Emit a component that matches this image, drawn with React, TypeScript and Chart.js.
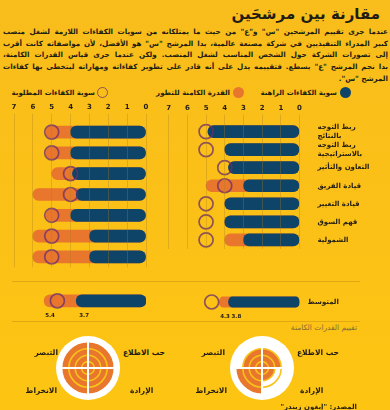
import React, { useEffect, useRef } from "react";
import { Chart, registerables } from "chart.js";

Chart.register(...registerables);
Chart.defaults.font.family = '"DejaVu Sans", sans-serif';

// ---------- data ----------
const categories: (string | string[])[] = [
  ["ربط التوجه", "بالنتائج"],
  ["ربط التوجه", "بالاستراتيجية"],
  "التعاون والتأثير",
  "قيادة الفريق",
  "قيادة التغيير",
  "فهم السوق",
  "الشمولية",
];
const leftCurrent = [4, 4, 3.9, 3.7, 4, 3, 3];
const leftPotential = [5.3, 5.3, 5, 6, 5.3, 6, 6];
const leftRequired = [5, 5, 4, 4, 5, 5, 5];
const rightCurrent = [4.9, 4, 3.8, 3, 4, 4, 3];
const rightPotential = [4.9, 4, 3.8, 5, 4, 4, 4];
const rightRequired = [5, 5, 4, 4, 5, 5, 5];

const avgCategory = ["المتوسط"];
const leftAvgCurrent = [3.7];
const leftAvgPotential = [5.4];
const leftAvgRequired = [4.7];
const rightAvgCurrent = [3.8];
const rightAvgPotential = [4.3];
const rightAvgRequired = [4.7];

const potentialAspects = ["حب الاطلاع", "الإرادة", "الانخراط", "التبصر"];
const leftAspectScores = [4, 4, 4, 4];
const rightAspectScores = [3, 2, 4, 3];

const legendLabels = ["سوية الكفاءات الراهنة", "القدرة الكامنة للتطور", "سوية الكفاءات المطلوبة"];
const titleText = "مقارنة بين مرشحَين";
const introLines = [
  'عندما جرى تقييم المرشحين "س" و"ع" من حيث ما يمتلكانه من سويات الكفاءات اللازمة لشغل منصب',
  'كبير المدراء التنفيذيين في شركة مصنعة عالمية، بدا المرشح "س" هو الأفضل، لأن مواصفاته كانت أقرب',
  "إلى تصورات الشركة حول الشخص المناسب لشغل المنصب. ولكن عندما جرى قياس القدرات الكامنة،",
  'بدا نجم المرشح "ع" يسطع. فتقييمه يدل على أنه قادر على تطوير كفاءاته ومهاراته ليتخطى بها كفاءات',
  'المرشح "س".',
];
const subtitleText = "تقييم القدرات الكامنة";
const sourceText = 'المصدر: "إيغون زيندر"';

// ---------- styles ----------
const NAVY = "#0e4467";
const ORANGE = "#e8762d";
const RING = "rgba(105,45,110,0.75)";
const TEXT = "#221c14";
const GRID = "rgba(170,125,30,0.33)";
const RING_YELLOW = "#f7c21a";

const avgValuePlugin = {
  id: "avgValues",
  afterDatasetsDraw(chart: any) {
    const xs = chart.scales.x;
    const ys = chart.scales.y;
    const ctx = chart.ctx;
    const y = ys.getPixelForValue(0) + 14.5;
    ctx.save();
    ctx.font = 'bold 5.5px "DejaVu Sans"';
    ctx.fillStyle = TEXT;
    ctx.textAlign = "left";
    ctx.textBaseline = "middle";
    const pot = chart.data.datasets[2].data[0];
    const cur = chart.data.datasets[1].data[0];
    ctx.fillText(pot.toFixed(1), xs.getPixelForValue(pot) + 1, y);
    ctx.fillText(cur.toFixed(1), xs.getPixelForValue(cur) + 3, y);
    ctx.restore();
  },
};

const whiteDisc = {
  id: "whiteDisc",
  beforeDatasetsDraw(chart: any) {
    const r = chart.scales.r;
    const ctx = chart.ctx;
    ctx.save();
    ctx.fillStyle = "#ffffff";
    ctx.beginPath();
    ctx.arc(r.xCenter, r.yCenter, r.drawingArea, 0, Math.PI * 2);
    ctx.fill();
    ctx.restore();
  },
};

type BarOpts = {
  main: boolean;
  showY: boolean;
  padLeft: number;
  padRight: number;
  padTop: number;
  padBottom: number;
  yPadding: number;
  values?: boolean;
};

function barConfig(
  labels: any[],
  current: number[],
  potential: number[],
  required: number[],
  o: BarOpts
): any {
  const barStyle = {
    barThickness: 12,
    borderRadius: 6,
    borderSkipped: false,
    grouped: false,
  };
  const xScale: any = {
    type: "linear",
    position: "top",
    min: 0,
    max: 7,
    reverse: true,
    display: o.main,
    ticks: { stepSize: 1, padding: 2, color: TEXT, font: { size: 7, weight: "bold" } },
    grid: { color: GRID, lineWidth: 1, z: 1, tickLength: 8, drawTicks: true },
    border: { display: false },
  };
  if (o.main) {
    xScale.afterFit = (s: any) => {
      s.height = 21.7;
    };
  }
  const yScale: any = {
    type: "category",
    position: "right",
    offset: true,
    display: o.showY,
    grid: { display: false, drawTicks: false },
    border: { display: false },
    ticks: {
      crossAlign: "near",
      padding: o.yPadding,
      color: TEXT,
      font: { size: 7, weight: "bold", lineHeight: 1.3 },
    },
  };
  if (o.showY) {
    yScale.afterFit = (s: any) => {
      s.width = 90.5;
    };
  }
  return {
    type: "bar",
    data: {
      labels,
      datasets: [
        {
          type: "line",
          indexAxis: "y",
          data: required,
          showLine: false,
          pointRadius: 7,
          pointHoverRadius: 7,
          pointBorderWidth: 1.7,
          pointBorderColor: RING,
          pointBackgroundColor: "rgba(0,0,0,0)",
          order: 0,
        },
        { data: current, backgroundColor: NAVY, order: 1, ...barStyle },
        { data: potential, backgroundColor: ORANGE, order: 2, ...barStyle },
      ],
    },
    options: {
      indexAxis: "y",
      animation: false,
      responsive: false,
      events: [],
      layout: { padding: { left: o.padLeft, right: o.padRight, top: o.padTop, bottom: o.padBottom } },
      plugins: { legend: { display: false }, tooltip: { enabled: false } },
      scales: { x: xScale, y: yScale },
    },
    plugins: o.values ? [avgValuePlugin] : [],
  };
}

function polarConfig(scores: number[]): any {
  return {
    type: "polarArea",
    data: {
      labels: potentialAspects,
      datasets: [{ data: scores, backgroundColor: ORANGE, borderWidth: 0 }],
    },
    options: {
      animation: false,
      responsive: false,
      events: [],
      layout: { padding: 0 },
      plugins: { legend: { display: false }, tooltip: { enabled: false } },
      scales: {
        r: {
          min: 0,
          max: 5,
          ticks: { display: false, stepSize: 1 },
          grid: {
            z: 1,
            circular: true,
            lineWidth: 1.6,
            color: (c: any) => (c.tick && c.tick.value < 4 ? RING_YELLOW : "rgba(0,0,0,0)"),
          },
          angleLines: { display: true, color: "#ffffff", lineWidth: 2 },
          pointLabels: { display: false },
        },
      },
    },
    plugins: [whiteDisc],
  };
}

function ChartBox(props: { make: () => any; left: number; top: number; width: number; height: number }) {
  const ref = useRef<HTMLCanvasElement>(null);
  useEffect(() => {
    const chart = new Chart(ref.current as HTMLCanvasElement, props.make());
    return () => chart.destroy();
  }, []);
  return (
    <canvas
      ref={ref}
      width={props.width}
      height={props.height}
      style={{ position: "absolute", left: props.left, top: props.top, width: props.width, height: props.height }}
    />
  );
}

const abs = (s: React.CSSProperties): React.CSSProperties => ({ position: "absolute", ...s });

function AspectLabels({ cx, cy, offs }: { cx: number; cy: number; offs: number[] }) {
  const st: React.CSSProperties = { fontSize: 7.5, fontWeight: "bold", whiteSpace: "nowrap", lineHeight: "10px" };
  return (
    <>
      <div dir="rtl" style={abs({ ...st, left: cx + offs[0], top: cy - 20 })}>{potentialAspects[0]}</div>
      <div dir="rtl" style={abs({ ...st, left: cx + offs[1], top: cy + 18 })}>{potentialAspects[1]}</div>
      <div dir="rtl" style={abs({ ...st, right: 390 - (cx - offs[2]), top: cy + 18 })}>{potentialAspects[2]}</div>
      <div dir="rtl" style={abs({ ...st, right: 390 - (cx - offs[3]), top: cy - 20 })}>{potentialAspects[3]}</div>
    </>
  );
}

export default function App() {
  const legendText: React.CSSProperties = { fontSize: 7, fontWeight: "bold", whiteSpace: "nowrap", lineHeight: "10px" };
  return (
    <div
      style={{
        position: "absolute",
        left: 0,
        top: 0,
        width: 390,
        height: 410,
        overflow: "hidden",
        background: "linear-gradient(180deg, #f9bd1c 0%, #fcc116 60%, #fdc512 100%)",
        fontFamily: '"DejaVu Sans", sans-serif',
        color: TEXT,
      }}
    >
      <div dir="rtl" style={abs({ right: 10, top: 4, fontSize: 15, fontWeight: "bold", whiteSpace: "nowrap", lineHeight: "20px" })}>
        {titleText}
      </div>
      <div dir="rtl" style={abs({ left: 3, top: 26, width: 385, fontSize: 7.2, fontWeight: "bold", lineHeight: "11.7px" })}>
        {introLines.map((l, i) => (
          <div
            key={i}
            style={{
              whiteSpace: "nowrap",
              textAlign: i < introLines.length - 1 ? "justify" : "right",
              textAlignLast: i < introLines.length - 1 ? "justify" : "right",
            }}
          >
            {l}
          </div>
        ))}
      </div>

      {/* legend */}
      <div style={abs({ left: 340, top: 87, width: 11, height: 11, borderRadius: "50%", background: NAVY })} />
      <div dir="rtl" style={abs({ ...legendText, right: 390 - 337, top: 88 })}>{legendLabels[0]}</div>
      <div style={abs({ left: 233, top: 87, width: 11, height: 11, borderRadius: "50%", background: ORANGE })} />
      <div dir="rtl" style={abs({ ...legendText, right: 390 - 230, top: 88 })}>{legendLabels[1]}</div>
      <div style={abs({ left: 97, top: 86.5, width: 9, height: 9, borderRadius: "50%", border: "1.7px solid " + RING })} />
      <div dir="rtl" style={abs({ ...legendText, right: 390 - 95, top: 88 })}>{legendLabels[2]}</div>

      <ChartBox
        left={0}
        top={100}
        width={160}
        height={176}
        make={() =>
          barConfig(categories, leftCurrent, leftPotential, leftRequired, {
            main: true, showY: false, padLeft: 14, padRight: 14, padTop: 0, padBottom: 0, yPadding: 0,
          })
        }
      />
      <ChartBox
        left={160}
        top={100}
        width={230}
        height={176}
        make={() =>
          barConfig(categories, rightCurrent, rightPotential, rightRequired, {
            main: true, showY: true, padLeft: 7, padRight: 0, padTop: 0, padBottom: 0, yPadding: 18,
          })
        }
      />

      <div style={abs({ left: 12, top: 281, width: 348, height: 1, background: "rgba(170,120,20,0.35)" })} />

      <ChartBox
        left={0}
        top={284}
        width={160}
        height={36}
        make={() =>
          barConfig(avgCategory, leftAvgCurrent, leftAvgPotential, leftAvgRequired, {
            main: false, showY: false, padLeft: 14, padRight: 14, padTop: 1, padBottom: 11, yPadding: 0, values: true,
          })
        }
      />
      <ChartBox
        left={160}
        top={284}
        width={230}
        height={36}
        make={() =>
          barConfig(avgCategory, rightAvgCurrent, rightAvgPotential, rightAvgRequired, {
            main: false, showY: true, padLeft: 7, padRight: 0, padTop: 1, padBottom: 11, yPadding: 8, values: true,
          })
        }
      />

      <div style={abs({ left: 12, top: 321, width: 348, height: 1, background: "rgba(170,120,20,0.35)" })} />

      <div dir="rtl" style={abs({ right: 390 - 357, top: 323, fontSize: 7.5, color: "#8a6a35", whiteSpace: "nowrap", lineHeight: "10px" })}>
        {subtitleText}
      </div>

      <ChartBox left={56} top={336} width={64} height={64} make={() => polarConfig(leftAspectScores)} />
      <ChartBox left={230} top={336} width={64} height={64} make={() => polarConfig(rightAspectScores)} />
      <AspectLabels cx={88} cy={368} offs={[35, 42, 31, 30]} />
      <AspectLabels cx={262} cy={368} offs={[35, 38, 35, 37]} />

      <div dir="rtl" style={abs({ right: 390 - 357, top: 402, fontSize: 7, fontWeight: "bold", whiteSpace: "nowrap", lineHeight: "10px" })}>
        {sourceText}
      </div>
    </div>
  );
}
